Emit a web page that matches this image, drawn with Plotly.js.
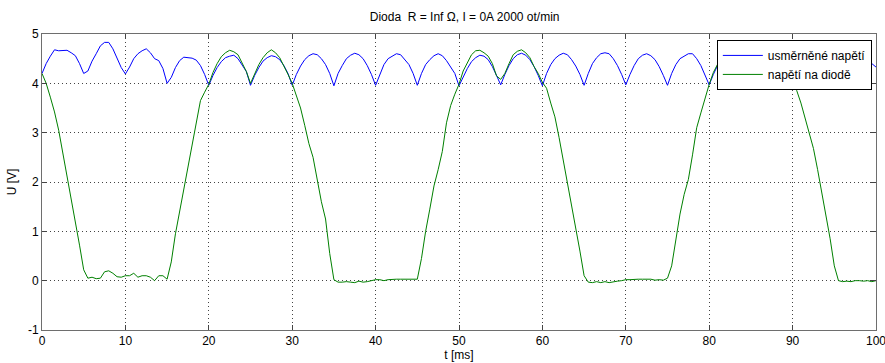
<!DOCTYPE html>
<html>
<head>
<meta charset="utf-8">
<script src="https://cdn.plot.ly/plotly-3.0.1.min.js"></script>
<style>html,body{margin:0;padding:0;background:#fff;}#chart{width:885px;height:363px;}</style>
</head>
<body>
<div id="chart"></div>
<script>
// time axis [ms]
const t = [
0,0.5,1,1.5,2,2.5,3,3.5,4,4.5,5,5.5,6,6.5,7,7.5,8,8.5,9,9.5,
10,10.5,11,11.5,12,12.5,13,13.5,14,14.5,15,15.5,16,16.5,17,17.5,18,18.5,19,19.5,
20,20.5,21,21.5,22,22.5,23,23.5,24,24.5,25,25.5,26,26.5,27,27.5,28,28.5,29,29.5,
30,30.5,31,31.5,32,32.5,33,33.5,34,34.5,35,35.5,36,36.5,37,37.5,38,38.5,39,39.5,
40,40.5,41,41.5,42,42.5,43,43.5,44,44.5,45,45.5,46,46.5,47,47.5,48,48.5,49,49.5,
50,50.5,51,51.5,52,52.5,53,53.5,54,54.5,55,55.5,56,56.5,57,57.5,58,58.5,59,59.5,
60,60.5,61,61.5,62,62.5,63,63.5,64,64.5,65,65.5,66,66.5,67,67.5,68,68.5,69,69.5,
70,70.5,71,71.5,72,72.5,73,73.5,74,74.5,75,75.5,76,76.5,77,77.5,78,78.5,79,79.5,
80,80.5,81,81.5,82,82.5,83,83.5,84,84.5,85,85.5,86,86.5,87,87.5,88,88.5,89,89.5,
90,90.5,91,91.5,92,92.5,93,93.5,94,94.5,95,95.5,96,96.5,97,97.5,98,98.5,99,99.5,
100];

// usměrněné napětí [V]
const usmerneneNapeti = [
4.20,4.40,4.55,4.68,4.66,4.66,4.67,4.62,4.56,4.40,
4.20,4.25,4.45,4.60,4.76,4.83,4.83,4.70,4.50,4.32,
4.19,4.33,4.50,4.60,4.66,4.70,4.62,4.50,4.46,4.30,
4.00,4.12,4.32,4.46,4.53,4.52,4.51,4.47,4.36,4.18,
3.96,4.16,4.32,4.44,4.52,4.55,4.57,4.50,4.38,4.24,
3.96,4.16,4.32,4.45,4.52,4.56,4.54,4.48,4.36,4.20,
3.96,4.18,4.35,4.48,4.56,4.60,4.58,4.50,4.38,4.20,
3.95,4.20,4.36,4.50,4.57,4.61,4.58,4.50,4.36,4.18,
3.96,4.18,4.38,4.50,4.55,4.60,4.58,4.48,4.38,4.20,
3.96,4.20,4.38,4.48,4.56,4.60,4.56,4.46,4.34,4.20,
3.95,4.14,4.30,4.44,4.52,4.57,4.55,4.48,4.34,4.16,
3.97,4.18,4.36,4.50,4.58,4.61,4.57,4.48,4.34,4.16,
3.95,4.20,4.38,4.50,4.57,4.61,4.58,4.48,4.35,4.18,
3.96,4.20,4.40,4.52,4.60,4.62,4.60,4.50,4.36,4.18,
3.97,4.18,4.36,4.50,4.57,4.60,4.56,4.48,4.34,4.16,
3.96,4.20,4.38,4.50,4.55,4.60,4.60,4.50,4.36,4.18,
3.97,4.18,4.36,4.50,4.57,4.60,4.58,4.48,4.35,4.18,
3.97,4.20,4.38,4.50,4.57,4.60,4.57,4.48,4.35,4.18,
3.96,4.18,4.36,4.50,4.57,4.60,4.58,4.48,4.35,4.18,
3.97,4.20,4.38,4.50,4.57,4.60,4.58,4.50,4.45,4.40,
4.33];

// napětí na diodě [V]
const napetiNaDiode = [
4.20,4.00,3.72,3.42,3.05,2.60,2.15,1.70,1.20,0.72,
0.22,0.05,0.07,0.04,0.05,0.18,0.20,0.15,0.08,0.07,
0.10,0.10,0.15,0.07,0.10,0.10,0.07,0.00,0.10,0.10,
0.03,0.38,0.95,1.40,1.85,2.30,2.72,3.25,3.65,3.82,
3.98,4.22,4.40,4.54,4.62,4.67,4.64,4.58,4.40,4.24,
4.00,4.20,4.38,4.52,4.62,4.68,4.62,4.52,4.36,4.18,
4.00,3.75,3.50,3.15,2.78,2.50,2.02,1.60,1.25,0.55,
0.02,-0.03,-0.03,-0.02,-0.03,-0.04,-0.01,-0.03,-0.02,0.00,
0.02,0.02,0.00,0.02,0.03,0.03,0.03,0.03,0.03,0.02,
0.03,0.45,1.00,1.45,1.92,2.25,2.62,3.20,3.55,3.78,
3.98,4.25,4.42,4.58,4.66,4.67,4.62,4.55,4.40,4.15,
4.08,4.20,4.40,4.58,4.65,4.68,4.62,4.52,4.34,4.20,
4.02,3.90,3.60,3.32,2.90,2.45,1.95,1.55,1.10,0.60,
0.10,-0.03,-0.04,-0.02,-0.04,-0.02,-0.04,-0.02,-0.01,0.00,
0.02,0.02,0.03,0.03,0.03,0.03,0.03,0.01,0.02,0.01,
0.05,0.30,0.80,1.35,1.75,2.05,2.55,3.10,3.40,3.70,
3.98,4.22,4.40,4.55,4.62,4.67,4.62,4.55,4.40,4.20,
4.05,4.20,4.40,4.55,4.64,4.67,4.62,4.50,4.35,4.18,
4.05,3.85,3.60,3.30,2.98,2.68,2.25,1.80,1.35,0.85,
0.30,0.00,-0.02,-0.01,-0.02,0.00,0.00,-0.01,0.00,-0.02,
0.00];

const seriesNames = ["usměrněné napětí", "napětí na diodě"];
const xTicks = [0,10,20,30,40,50,60,70,80,90,100];
const yTicks = [-1,0,1,2,3,4,5];

const FONT = "'Liberation Sans Narrow', 'Liberation Sans', Arial, sans-serif";

const traces = [
  {x: t, y: usmerneneNapeti, name: seriesNames[0], type: "scatter", mode: "lines",
   line: {color: "#0000ff", width: 1}},
  {x: t, y: napetiNaDiode, name: seriesNames[1], type: "scatter", mode: "lines",
   line: {color: "#008000", width: 1}}
];

const axisCommon = {
  showline: true, mirror: "allticks", linecolor: "#6e6e6e", linewidth: 1,
  ticks: "inside", ticklen: 5, tickcolor: "#444", tickwidth: 1,
  showgrid: true, gridcolor: "#444", griddash: "1px,3px", gridwidth: 1,
  zeroline: false, tickfont: {family: FONT, size: 12, color: "#000"},
  ticklabeloverflow: "allow"
};

const layout = {
  width: 885, height: 363,
  margin: {l: 42, r: 9, t: 34, b: 33},
  paper_bgcolor: "#fff", plot_bgcolor: "#fff",
  font: {family: FONT, size: 12, color: "#000"},
  title: {text: "Dioda  R = Inf Ω, I = 0A 2000 ot/min", x: 0.525, xanchor: "center",
          y: 0.955, yanchor: "middle", font: {family: FONT, size: 12, color: "#000"}},
  xaxis: Object.assign({}, axisCommon, {
    range: [0, 100.0001], tickvals: xTicks, ticktext: xTicks.map(String),
    title: {text: "t [ms]", standoff: 2, font: {family: FONT, size: 12}}
  }),
  yaxis: Object.assign({}, axisCommon, {
    range: [-1, 5], tickvals: yTicks, ticktext: yTicks.map(String),
    title: {text: "U [V]", standoff: 8, font: {family: FONT, size: 12}}
  }),
  showlegend: true,
  legend: {x: 0.995, y: 0.98, xanchor: "right", yanchor: "top",
           bgcolor: "#fff", bordercolor: "#000", borderwidth: 1,
           font: {family: FONT, size: 12, color: "#000"},
           tracegroupgap: 0, itemwidth: 40}
};

Plotly.newPlot("chart", traces, layout, {staticPlot: true, displayModeBar: false});
</script>
</body>
</html>
